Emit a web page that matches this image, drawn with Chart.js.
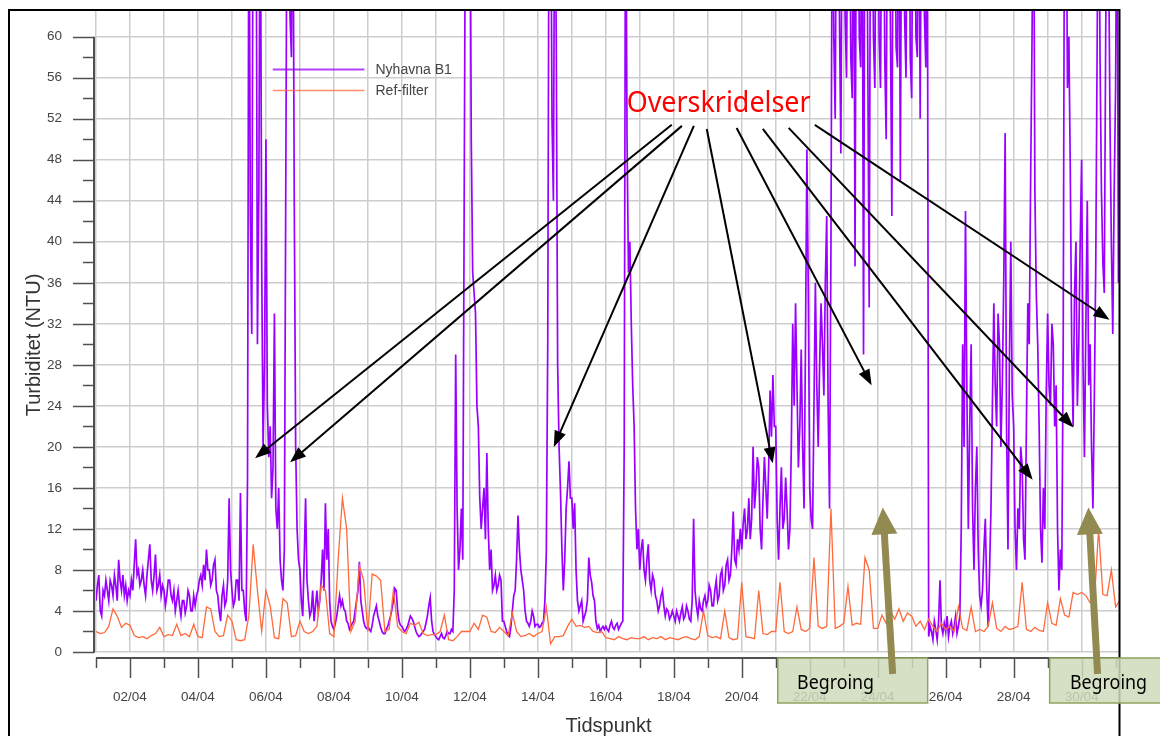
<!DOCTYPE html>
<html lang="no">
<head>
<meta charset="utf-8">
<title>Turbiditet Nyhavna B1</title>
<script src="https://cdn.jsdelivr.net/npm/chart.js@4.4.1/dist/chart.umd.min.js"></script>
<style>
  html, body { margin: 0; padding: 0; background: #fff; }
  #graf { display: block; }
</style>
</head>
<body>
<canvas id="graf" width="1160" height="736"></canvas>
<script>
/* ============================================
   Turbiditet (NTU) – Nyhavna B1 mot Ref-filter
   Måleserie 01/04 – 01/05, tid i døgn fra 01/04 00:00
   ============================================ */

// Nyhavna B1, én verdi i timen (24 per døgn)
const nyhavnaB1 = [
  /* 01/04 */ 5, 6.5, 7.5, 4, 3.5, 6, 5.5, 7, 6, 5, 7, 6.5, 5.5, 7.5, 6.5, 5, 9, 7, 6, 7.5, 5.5, 6.5, 5, 6,
  /* 02/04 */ 5.5, 7, 6, 8.5, 11, 7.5, 8, 6.5, 7, 8, 6.5, 5.5, 7.5, 9, 10.5, 7, 6, 7.5, 9.5, 6, 6.5, 7.5, 5.5, 6.5,
  /* 03/04 */ 6, 4.5, 5.5, 7, 7, 5.5, 5, 6, 4, 5, 6, 4.5, 3.5, 5, 5, 3.8, 4.5, 6, 5.5, 4, 4, 5.5, 4.5, 5.5,
  /* 04/04 */ 6, 7, 7.5, 6.5, 8.5, 7, 10, 8, 8, 6.5, 7, 8.5, 9, 6, 5.5, 4, 3, 5.5, 6.5, 4.5, 5, 7, 15, 8,
  /* 05/04 */ 6, 4.5, 5, 7, 7, 5, 15.5, 6, 6, 4, 3, 17, 80, 42, 31, 80, 64, 80, 30, 45, 80, 38, 20, 28,
  /* 06/04 */ 50, 24, 19, 22, 15, 18, 33, 14, 12, 16, 9, 7, 6, 10, 45, 80, 80, 62, 58, 80, 44, 20, 12, 9,
  /* 07/04 */ 8, 5, 3.5, 9, 15, 7, 5, 3.5, 4, 6, 3, 4.5, 6, 4, 5, 7, 10, 6, 14.5, 9, 12, 5, 3, 2.5,
  /* 08/04 */ 2.2, 2.8, 3.5, 4.5, 5.5, 4.5, 5, 4.2, 4, 3, 2.8, 2.2, 2.5, 2.8, 3, 4, 5, 6, 8.8, 5, 4, 3, 2.5, 2.3,
  /* 09/04 */ 2.5, 2.2, 2, 2.6, 3.5, 4, 4.5, 3.5, 3, 2.4, 2, 1.8, 1.8, 2.2, 2.5, 3, 3.5, 4.2, 5, 6.2, 6, 4, 3, 2.6,
  /* 10/04 */ 2.5, 2.2, 2, 2.2, 2.5, 3, 3.5, 3.3, 3, 2.5, 2, 1.7, 1.5, 1.6, 1.8, 2, 2.2, 2.8, 3.5, 4.5, 5.3, 3, 2, 1.7,
  /* 11/04 */ 1.5, 1.3, 1.2, 1.5, 1.8, 1.4, 1.3, 1.6, 2, 1.8, 1.8, 2.2, 2, 6, 29, 14, 8, 10, 14, 9, 44, 80, 80, 80,
  /* 12/04 */ 80, 50, 37, 35, 33, 24, 22, 15, 12, 14, 16, 11, 19.4, 12, 8, 10, 6, 6.5, 7.5, 6, 6.5, 7.5, 7, 3,
  /* 13/04 */ 3, 2.5, 2, 1.6, 1.5, 2.5, 4, 5.5, 6, 9, 13.3, 10, 8, 7, 6, 4, 3, 2.8, 2.5, 3, 4, 3.5, 2.5, 2.7,
  /* 14/04 */ 2.7, 2.4, 2.5, 2.8, 3, 5, 9.7, 30, 80, 80, 52, 44, 80, 60, 28, 20, 15.7, 10, 6, 9, 14, 16, 18.6, 15,
  /* 15/04 */ 15, 12, 14.5, 8, 5, 4, 4.5, 5, 3, 3.5, 4, 5, 9.2, 7.5, 6.8, 5.5, 5, 3, 2.3, 2.6, 2, 2.3, 2.5, 2.2,
  /* 16/04 */ 2.5, 2.2, 2, 2.6, 3, 2.4, 2.2, 2.6, 2.8, 2.2, 2.5, 2.8, 3, 20, 80, 50, 37, 40, 32, 26, 22, 14, 10, 12,
  /* 17/04 */ 8, 10, 11, 8, 7, 9, 10.5, 7, 6, 7.5, 7, 5.5, 5, 4, 4.5, 5.5, 6, 4.5, 3.5, 4.2, 4, 3.2, 3.5, 4,
  /* 18/04 */ 3.5, 3, 4, 3.5, 3, 3.8, 4.4, 3.2, 3.5, 4.5, 4, 3.2, 3, 5, 13, 6, 4.5, 3.5, 5, 4.2, 4, 5, 5.5, 4.5,
  /* 19/04 */ 5, 6.5, 6, 4.5, 4.5, 6, 7, 5, 5.5, 7.5, 8, 6, 6.5, 8.5, 9, 7, 7.5, 10, 13.7, 9, 8.5, 11, 10, 12,
  /* 20/04 */ 10, 12.5, 14, 11, 12, 15, 11, 13, 20, 14, 16, 19, 18, 12, 10, 15, 19, 16, 13, 18, 25.5, 21, 27, 22,
  /* 21/04 */ 22, 13, 9, 14, 18, 12, 13, 17, 14, 10, 12, 20, 32, 24, 34, 26, 18, 22, 29.5, 20, 14, 30, 49, 35,
  /* 22/04 */ 16, 13, 12, 24, 36, 26, 20, 28, 34, 30, 25, 36, 42.5, 24, 14, 40, 80, 60, 52, 80, 80, 62, 48.6, 80,
  /* 23/04 */ 80, 62, 56, 80, 80, 58, 54, 80, 37.6, 80, 80, 60, 57, 80, 29, 80, 80, 58, 33.6, 80, 80, 60, 55, 80,
  /* 24/04 */ 80, 60, 55, 80, 80, 58, 50, 80, 80, 61, 42.5, 80, 80, 59, 57, 80, 46, 80, 80, 62, 56, 80, 80, 58,
  /* 25/04 */ 54, 80, 80, 60, 58, 80, 52, 80, 80, 62, 57, 80, 1.5, 2.5, 2, 1.2, 3, 2.2, 1.2, 3, 7, 2.5, 1.8, 2.8,
  /* 26/04 */ 2, 3.5, 1.5, 2.5, 3, 1.8, 2.5, 3.5, 1.8, 2.5, 3.5, 12, 30, 20, 43, 25, 12, 22, 30, 14, 8, 16, 20, 10,
  /* 27/04 */ 5.5, 4.5, 6, 10, 13, 6, 2.5, 8, 14, 24, 34, 26, 22, 33, 30, 20, 26, 36, 50.6, 22, 10, 28, 40, 25,
  /* 28/04 */ 22, 12, 8, 14, 12, 20, 18.2, 11, 9, 22, 34, 30, 46, 60, 80, 45, 35, 30, 22, 12, 8.7, 16, 12, 25,
  /* 29/04 */ 33, 26, 24, 32, 30, 22, 26, 12, 6, 10, 8, 30, 80, 80, 55, 60, 47, 30, 22, 35, 40, 24, 30, 40,
  /* 30/04 */ 48, 28, 19, 32, 44, 26, 30, 20, 14, 25, 38, 60, 80, 58, 45, 38, 35, 60, 80, 70, 52, 40, 31, 45,
  /* 01/05 */ 55, 80, 36
];

// Ref-filter, én verdi hver 3. time (8 per døgn)
const refFilter = [
  /* 01/04 */ 2, 1.8, 1.9, 2.5, 4.2, 3.5, 2.4, 2.8,
  /* 02/04 */ 2.6, 1.6, 1.4, 1.5, 1.3, 1.6, 1.8, 2.4,
  /* 03/04 */ 1.5, 1.7, 1.6, 2.7, 1.6, 1.8, 1.5, 2.7,
  /* 04/04 */ 1.5, 1.4, 4.4, 4.2, 2, 1.5, 1.6, 3.6,
  /* 05/04 */ 3, 1.2, 1.1, 1.2, 3.6, 10.5, 6, 2,
  /* 06/04 */ 6, 4.5, 1.4, 1.3, 5.2, 4.8, 1.5, 1.6,
  /* 07/04 */ 3, 2, 1.8, 2, 2.5, 6.5, 6, 1.8,
  /* 08/04 */ 1.5, 9, 15, 12, 2, 3, 8.4, 7,
  /* 09/04 */ 2, 7.6, 7.4, 7, 2, 2.2, 6, 2.5,
  /* 10/04 */ 2, 1.8, 2.8, 2.6, 2.9, 1.8, 1.6, 1.7,
  /* 11/04 */ 1.7, 2, 3.6, 1.2, 1.1, 1.5, 2, 2,
  /* 12/04 */ 2, 2.8, 2.2, 3.6, 3.4, 2, 1.9, 2.4,
  /* 13/04 */ 2, 1.6, 3.8, 2, 1.5, 1.6, 1.8, 1.5,
  /* 14/04 */ 1.8, 2, 4.4, 0.8, 1.5, 1.5, 1.6, 2.5,
  /* 15/04 */ 3.2, 2.5, 2.6, 2.4, 2.5, 2, 1.9, 2,
  /* 16/04 */ 1.4, 1.3, 1.2, 1.5, 1.3, 1.2, 1.4, 1.3,
  /* 17/04 */ 1.3, 1.5, 1.2, 1.4, 1.3, 1.5, 1.2, 1.4,
  /* 18/04 */ 1.3, 1.2, 1.4, 1.5, 1.3, 1.2, 1.5, 4,
  /* 19/04 */ 1.6, 1.4, 1.5, 1.3, 4, 1.4, 1.2, 1.3,
  /* 20/04 */ 6.8, 1.5, 1.4, 1.3, 6, 1.8, 1.7, 2,
  /* 21/04 */ 2, 6.8, 2, 1.8, 2, 4.4, 2.2, 2,
  /* 22/04 */ 2.3, 9.2, 2.5, 2.3, 2.5, 14, 2.3, 2.5,
  /* 23/04 */ 2.8, 6.4, 2.6, 2.8, 2.7, 9.2, 8, 2.3,
  /* 24/04 */ 2.3, 3.6, 2.8, 4, 3.2, 4.2, 3, 3.8,
  /* 25/04 */ 3.5, 2.5, 3, 2.2, 3.2, 2.5, 2, 2.8,
  /* 26/04 */ 2.2, 2.5, 2, 4.4, 2.3, 2.1, 4.4, 2,
  /* 27/04 */ 2.2, 2, 2.5, 4.8, 2.3, 2, 2.5, 2.2,
  /* 28/04 */ 2.3, 2.5, 6.8, 2.2, 2, 2.4, 2.1, 2,
  /* 29/04 */ 4.8, 2.8, 2.6, 5.2, 3.6, 3.4, 5.8, 5.6,
  /* 30/04 */ 5.8, 5.5, 4.8, 5, 12, 5.6, 5.5, 8,
  /* 01/05 */ 4.4, 5
];

// Etiketter på tidsaksen (hvert 2. døgn, fra 02/04)
const datoEtiketter = ['02/04', '04/04', '06/04', '08/04', '10/04', '12/04', '14/04',
  '16/04', '18/04', '20/04', '22/04', '24/04', '26/04', '28/04', '30/04'];

// Piler for overskridelser: [start døgn, start NTU, spiss døgn, spiss NTU]
const overskridelsePiler = [
  [16.94, 51.4, 4.68, 18.9],
  [17.24, 51.3, 5.71, 18.5],
  [17.59, 51.3, 13.47, 20.0],
  [17.97, 51.0, 19.91, 18.4],
  [18.85, 51.1, 22.82, 26.0],
  [19.62, 51.0, 27.56, 16.8],
  [20.38, 51.1, 28.76, 21.9],
  [21.15, 51.4, 29.82, 32.4],
];

// Begroing-perioder: [fra døgn, til døgn, pil fot døgn, pil spiss døgn]
const begroing = [
  [20.06, 24.47, 23.44, 23.15],
  [28.06, 31.5, 29.47, 29.2],
];

const FONT = "'Liberation Sans', Arial, sans-serif";
const LILLA = '#9900ff';
const ORANSJE = '#ff6a3d';

const tilPunkter = (verdier, perDogn) => verdier.map((v, i) => ({ x: i / perDogn, y: v }));

/**
 * Tegner en pil med fylt spiss
 */
function tegnPil(ctx, x1, y1, x2, y2, farge, bredde, lengde, hodeBredde) {
  const a = Math.atan2(y2 - y1, x2 - x1);
  const c = Math.cos(a), s = Math.sin(a);
  ctx.save();
  ctx.strokeStyle = farge;
  ctx.fillStyle = farge;
  ctx.lineWidth = bredde;
  ctx.beginPath();
  ctx.moveTo(x1, y1);
  ctx.lineTo(x2 - c * lengde * 0.9, y2 - s * lengde * 0.9);
  ctx.stroke();
  ctx.beginPath();
  ctx.moveTo(x2, y2);
  ctx.lineTo(x2 - c * lengde + s * hodeBredde / 2, y2 - s * lengde - c * hodeBredde / 2);
  ctx.lineTo(x2 - c * lengde - s * hodeBredde / 2, y2 - s * lengde + c * hodeBredde / 2);
  ctx.closePath();
  ctx.fill();
  ctx.restore();
}

/**
 * Tekst presset til en gitt bredde (Calibri-aktig smal skrift)
 */
function tegnSmalTekst(ctx, tekst, cx, grunnlinje, storrelse, bredde, farge) {
  ctx.save();
  ctx.font = `${storrelse}px 'Noto Sans', 'Open Sans', sans-serif`;
  const w = ctx.measureText(tekst).width;
  ctx.translate(cx, grunnlinje);
  ctx.scale(bredde / w, 1);
  ctx.fillStyle = farge;
  ctx.textAlign = 'center';
  ctx.textBaseline = 'alphabetic';
  ctx.fillText(tekst, 0, 0);
  ctx.restore();
}

// Akser, ramme, tegnforklaring og merknader
const pynt = {
  id: 'pynt',
  afterDraw(chart) {
    const { ctx, chartArea: ca, scales: { x, y } } = chart;
    ctx.save();

    // Ytre ramme
    ctx.strokeStyle = '#000';
    ctx.lineWidth = 2;
    ctx.beginPath();
    ctx.moveTo(9, 736);
    ctx.lineTo(9, 10);
    ctx.lineTo(ca.right + 0.5, 10);
    ctx.lineTo(ca.right + 0.5, 736);
    ctx.stroke();

    // Y-akse med hoved- og hjelpestreker
    ctx.strokeStyle = '#505050';
    ctx.lineWidth = 2;
    ctx.beginPath();
    ctx.moveTo(ca.left - 2, y.getPixelForValue(60));
    ctx.lineTo(ca.left - 2, y.getPixelForValue(0) + 1);
    ctx.stroke();
    ctx.lineWidth = 1.5;
    for (let v = 0; v <= 60; v += 2) {
      const py = Math.round(y.getPixelForValue(v)) + 0.5;
      ctx.beginPath();
      ctx.moveTo(v % 4 === 0 ? ca.left - 23 : ca.left - 13, py);
      ctx.lineTo(ca.left - 2, py);
      ctx.stroke();
    }

    // X-akse, litt under plottet
    const ax = ca.bottom + 6;
    ctx.lineWidth = 2;
    ctx.beginPath();
    ctx.moveTo(ca.left, ax);
    ctx.lineTo(ca.right, ax);
    ctx.stroke();
    ctx.lineWidth = 1.5;
    for (let d = 0; d <= 30; d++) {
      const px = Math.round(x.getPixelForValue(d)) + 0.5;
      ctx.beginPath();
      ctx.moveTo(px, ax);
      ctx.lineTo(px, ax + (d % 2 === 1 ? 20 : 10));
      ctx.stroke();
    }

    // Aksetitler
    ctx.fillStyle = '#333';
    ctx.font = `20px ${FONT}`;
    ctx.textAlign = 'center';
    ctx.textBaseline = 'alphabetic';
    ctx.fillText('Tidspunkt', (ca.left + ca.right) / 2 + 1, 732);
    ctx.save();
    ctx.translate(40, 345);
    ctx.rotate(-Math.PI / 2);
    ctx.fillText('Turbiditet (NTU)', 0, 0);
    ctx.restore();

    // Tegnforklaring
    const lx0 = x.getPixelForValue(5.2), lx1 = x.getPixelForValue(7.9);
    [[LILLA, 'Nyhavna B1', 69, 1.8], [ORANSJE, 'Ref-filter', 90, 1.3]].forEach(([farge, navn, ly, lw]) => {
      ctx.strokeStyle = farge;
      ctx.globalAlpha = 0.75;
      ctx.lineWidth = lw;
      ctx.beginPath();
      ctx.moveTo(lx0, ly + 0.5);
      ctx.lineTo(lx1, ly + 0.5);
      ctx.stroke();
      ctx.globalAlpha = 1;
      ctx.fillStyle = '#444';
      ctx.font = `14px ${FONT}`;
      ctx.textAlign = 'left';
      ctx.textBaseline = 'middle';
      ctx.fillText(navn, lx1 + 11, ly + 1);
    });

    // Overskridelser
    tegnSmalTekst(ctx, 'Overskridelser', x.getPixelForValue(18.32), y.getPixelForValue(52.7), 29, 184, '#ff0000');
    overskridelsePiler.forEach(([d1, v1, d2, v2]) => {
      tegnPil(ctx, x.getPixelForValue(d1), y.getPixelForValue(v1),
        x.getPixelForValue(d2), y.getPixelForValue(v2), '#000', 2, 16, 12);
    });

    // Begroing-bokser og piler
    begroing.forEach(([fra, til]) => {
      const bx0 = x.getPixelForValue(fra);
      const bx1 = Math.min(x.getPixelForValue(til), 1161);
      ctx.fillStyle = 'rgba(207, 218, 186, 0.85)';
      ctx.strokeStyle = '#8fa562';
      ctx.lineWidth = 1.5;
      ctx.fillRect(bx0, ax, bx1 - bx0, 45);
      ctx.strokeRect(bx0, ax, bx1 - bx0, 45);
    });
    begroing.forEach(([fra, til, fot, spiss]) => {
      tegnPil(ctx, x.getPixelForValue(fot), ca.bottom + 22,
        x.getPixelForValue(spiss), y.getPixelForValue(14.1), '#938a52', 7, 27, 26);
    });
    tegnSmalTekst(ctx, 'Begroing', x.getPixelForValue(21.76), 689, 20, 77, '#000');
    tegnSmalTekst(ctx, 'Begroing', x.getPixelForValue(29.79), 689, 20, 77, '#000');

    ctx.restore();
  }
};

new Chart(document.getElementById('graf'), {
  type: 'line',
  data: {
    datasets: [
      {
        label: 'Ref-filter',
        data: tilPunkter(refFilter, 8),
        borderColor: ORANSJE,
        borderWidth: 1.3,
        pointRadius: 0,
        tension: 0,
      },
      {
        label: 'Nyhavna B1',
        data: tilPunkter(nyhavnaB1, 24),
        borderColor: LILLA,
        borderWidth: 1.7,
        pointRadius: 0,
        tension: 0,
      },
    ],
  },
  options: {
    responsive: false,
    animation: false,
    devicePixelRatio: 1,
    layout: { padding: { left: 0, right: 41, top: 11, bottom: 0 } },
    plugins: {
      legend: { display: false },
      tooltip: { enabled: false },
    },
    scales: {
      x: {
        type: 'linear',
        min: 0,
        max: 30.1,
        afterFit: (s) => { s.height = 84; },
        afterBuildTicks: (s) => { s.ticks = s.ticks.filter(t => Number.isInteger(t.value)); },
        border: { display: false },
        // tickLength gir avstand til etikettene, selve strekene tegnes i pynt
        grid: { color: '#cdcdcd', lineWidth: 1.5, drawTicks: true, tickLength: 31, tickColor: 'transparent' },
        ticks: {
          stepSize: 1,
          autoSkip: false,
          maxRotation: 0,
          padding: 6,
          color: '#444',
          font: { family: FONT, size: 13.5 },
          callback: (v) => (v % 2 === 1 ? datoEtiketter[(v - 1) / 2] : ''),
        },
      },
      y: {
        min: 0,
        max: 62.5,
        afterFit: (s) => { s.width = 96; },
        afterBuildTicks: (s) => { s.ticks = s.ticks.filter(t => t.value % 2 === 0); },
        border: { display: false },
        grid: {
          color: (c) => (c.tick && c.tick.value % 4 === 0 ? '#cdcdcd' : 'transparent'),
          lineWidth: 1.5,
          drawTicks: true,
          tickLength: 32,
          tickColor: 'transparent',
        },
        ticks: {
          stepSize: 2,
          autoSkip: false,
          padding: 2,
          color: '#444',
          font: { family: FONT, size: 13.5 },
          callback: (v) => (v % 4 === 0 ? String(v) : ''),
        },
      },
    },
  },
  plugins: [pynt],
});
</script>
</body>
</html>
